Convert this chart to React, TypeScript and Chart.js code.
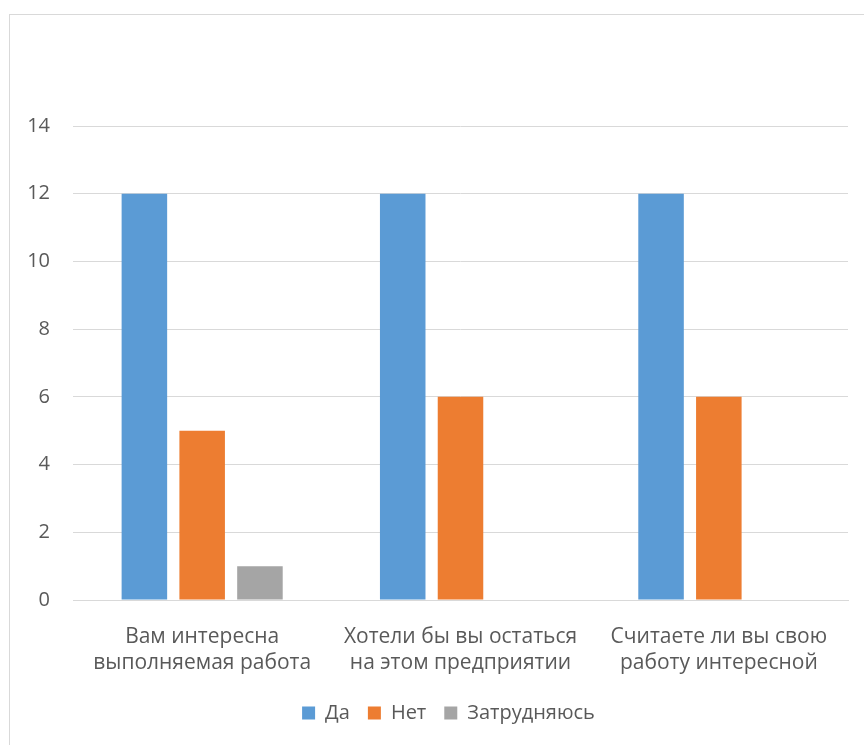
import React, { useEffect, useRef } from "react";
import { Chart, registerables } from "chart.js";

Chart.register(...registerables);

const categories: string[][] = [
  ["Вам интересна", "выполняемая работа"],
  ["Хотели бы вы остаться", "на этом предприятии"],
  ["Считаете ли вы свою", "работу интересной"],
];
const seriesNames = ["Да", "Нет", "Затрудняюсь"];
const yesValues = [12, 12, 12];
const noValues = [5, 6, 6];
const unsureValues = [1, 0, 0];
const seriesColors = ["#5B9BD5", "#ED7D31", "#A5A5A5"];

const yMax = 14;
const yStep = 2;

const FONT = "'Open Sans', sans-serif";
const TEXT = "#595959";
const GRID = "#D9D9D9";

// Centre the legend under the plot area rather than the whole canvas.
const legendShift = {
  id: "legendShift",
  afterLayout(chart: any) {
    const legend = chart.legend;
    if (!legend) return;
    const dx = (chart.chartArea.left + chart.chartArea.right) / 2 - (legend.left + legend.right) / 2 - 12;
    legend.left += dx;
    legend.right += dx;
  },
};

export default function App() {
  const canvasRef = useRef<HTMLCanvasElement | null>(null);

  useEffect(() => {
    const canvas = canvasRef.current;
    if (!canvas) return;
    const values = [yesValues, noValues, unsureValues];
    const chart = new Chart(canvas, {
      type: "bar",
      data: {
        labels: categories,
        datasets: seriesNames.map((name, i) => ({
          label: name,
          data: values[i],
          backgroundColor: seriesColors[i],
          borderWidth: 0,
          categoryPercentage: 0.671,
          barPercentage: 0.788,
        })),
      },
      options: {
        animation: false,
        responsive: false,
        maintainAspectRatio: false,
        layout: { padding: { top: 126, right: 16, bottom: 12, left: 0 } },
        plugins: {
          tooltip: { enabled: false },
          legend: {
            position: "bottom",
            labels: {
              color: TEXT,
              font: { family: FONT, size: 20 },
              boxWidth: 13,
              boxHeight: 13,
              padding: 18,
            },
          },
        },
        scales: {
          x: {
            grid: { display: false, drawTicks: false },
            border: { display: true, color: GRID, width: 1 },
            ticks: {
              color: TEXT,
              font: { family: FONT, size: 21, lineHeight: 1.25 },
              padding: 24,
              maxRotation: 0,
              autoSkip: false,
            },
            afterFit: (scale: any) => {
              scale.height = 85;
            },
          },
          y: {
            min: 0,
            max: yMax,
            grid: { color: GRID, drawTicks: false, lineWidth: 1 },
            border: { display: false },
            ticks: {
              stepSize: yStep,
              color: TEXT,
              font: { family: FONT, size: 20 },
              padding: 23,
            },
            afterFit: (scale: any) => {
              scale.width = 73;
            },
          },
        },
      },
      plugins: [legendShift],
    });
    return () => chart.destroy();
  }, []);

  return (
    <div style={{ position: "fixed", left: 0, top: 0, width: 864, height: 745, background: "#fff", overflow: "hidden" }}>
      <div
        style={{
          position: "absolute",
          left: 9,
          top: 14,
          width: 900,
          height: 800,
          borderTop: "1px solid #D9D9D9",
          borderLeft: "1px solid #D9D9D9",
        }}
      />
      <canvas ref={canvasRef} width={864} height={745} style={{ position: "absolute", left: 0, top: 0 }} />
    </div>
  );
}
